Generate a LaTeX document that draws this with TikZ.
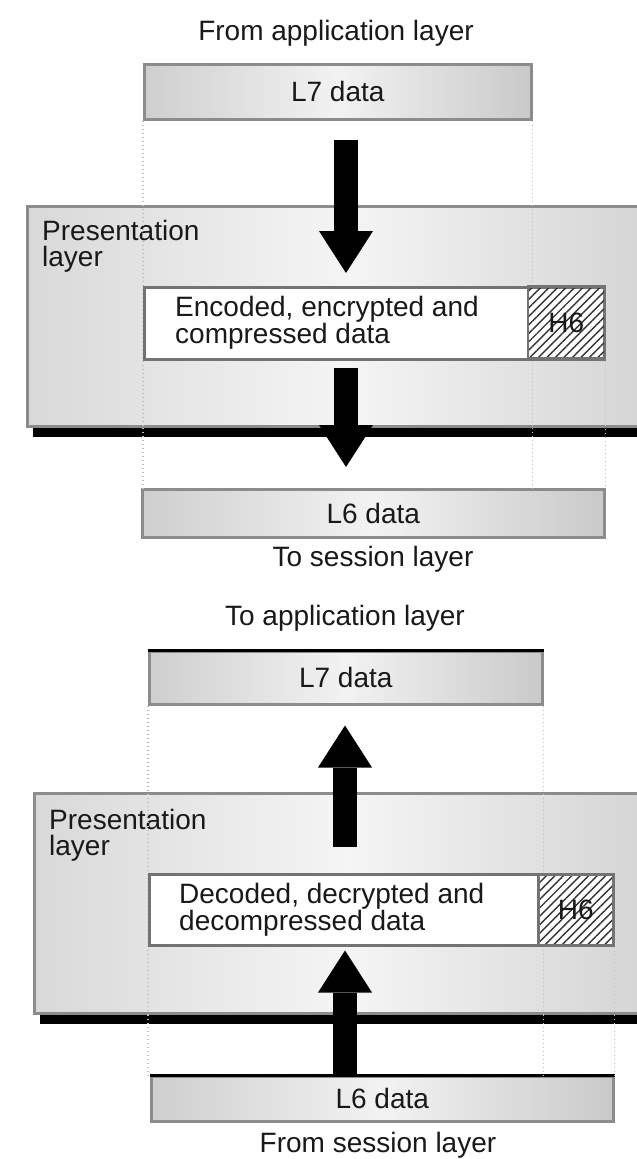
\documentclass[tikz,border=0pt]{standalone}
\usepackage{fontspec}
\setmainfont{Liberation Sans}
\usetikzlibrary{arrows.meta,calc,patterns.meta,shadows}
\begin{document}
\begin{tikzpicture}[x=1pt,y=-1pt,
  lbl/.style={font=\fontsize{28}{27}\selectfont, text=black!90, inner sep=0pt},
  databox/.style={lbl, draw=gray!90, line width=2.5pt, left color=gray!38, right color=gray!42, middle color=gray!10, anchor=north west},
  layerbox/.style={draw=gray!90, line width=2.5pt, left color=gray!30, right color=gray!35, middle color=gray!8, anchor=north west,
    drop shadow={shadow xshift=6pt, shadow yshift=-11pt, fill=black, opacity=1}},
  payload/.style={draw=gray!90!black, line width=2.5pt, fill=white, anchor=north west},
  hdr/.style={lbl, draw=gray!90!black, line width=2.5pt, pattern={Lines[angle=45,distance=6pt,line width=1.4pt]}, pattern color=black!80, anchor=north east},
  guide/.style={draw=gray!50, line width=1.5pt, dash pattern=on 1.5pt off 2.5pt},
  flow/.style={line width=24pt, -{Triangle[width=54pt,length=42pt,line width=0pt]}},
]
\useasboundingbox (0,0) rectangle (637,1159);
\clip (0,0) rectangle (637,1159);
\fill[white] (0,0) rectangle (637,1159);

% ---------- sending side: application -> presentation -> session ----------
\node[lbl] (fromapp) at (336,33) {From application layer};
\node[databox, minimum width=387pt, minimum height=55pt] (l7a) at (143,63) {L7 data};
\node[layerbox, minimum width=640pt, minimum height=220pt] (presA) at (26,205) {};
\node[lbl, align=left, anchor=north west, font=\fontsize{28}{26}\selectfont] (presAt) at (42,220) {Presentation\\layer};
\draw[guide] (l7a.south west) -- (l7a.south west |- presA.south);
\draw[guide] (l7a.south east) -- (l7a.south east |- presA.south);
\node[payload, minimum width=460pt, minimum height=72pt] (encA) at (143,286) {};
\node[lbl, align=left, anchor=west] (encAt) at ($(encA.west)+(32,0)$) {Encoded, encrypted and\\compressed data};
\node[hdr, minimum width=77pt, minimum height=72pt] (h6a) at (encA.north east) {H6};
\node[databox, minimum width=462pt, minimum height=48pt] (l6a) at (141,488) {L6 data};
\node[lbl] (tosess) at (373,559) {To session layer};
\draw[guide] (presA.south -| l7a.south west) -- (l7a.south west |- l6a.north);
\draw[guide] (presA.south -| l7a.south east) -- (l7a.south east |- l6a.north);
\draw[guide] (encA.south east) -- (l6a.north east);

\coordinate (ax) at (346,0);
\draw[flow] ($(l7a.south -| ax)+(0,19)$) -- ($(encA.north -| ax)+(0,-13)$);
\draw[flow] ($(encA.south -| ax)+(0,7)$) -- ($(l6a.north -| ax)+(0,-21)$);

% ---------- receiving side: session -> presentation -> application ----------
\node[lbl] (toapp) at (345,618) {To application layer};
\node[databox, minimum width=393pt, minimum height=53pt] (l7b) at (148,650) {L7 data};
\draw[line width=3pt] (l7b.north west) -- (l7b.north east);
\node[layerbox, minimum width=630pt, minimum height=220pt] (presB) at (33,792) {};
\node[lbl, align=left, anchor=north west, font=\fontsize{28}{26}\selectfont] (presBt) at (49,809) {Presentation\\layer};
\draw[guide] (l7b.south west) -- (l7b.south west |- presB.south);
\draw[guide] (l7b.south east) -- (l7b.south east |- presB.south);
\node[payload, minimum width=464pt, minimum height=71pt] (decB) at (148,873) {};
\node[lbl, align=left, anchor=west] (decBt) at ($(decB.west)+(31,0)$) {Decoded, decrypted and\\decompressed data};
\node[hdr, minimum width=75pt, minimum height=71pt] (h6b) at (decB.north east) {H6};
\node[databox, minimum width=462pt, minimum height=45pt] (l6b) at (150,1075) {L6 data};
\draw[line width=3pt] (l6b.north west) -- (l6b.north east);
\node[lbl] (fromsess) at (378,1145) {From session layer};
\draw[guide] (presB.south -| l7b.south west) -- (l7b.south west |- l6b.north);
\draw[guide] (presB.south -| l7b.south east) -- (l7b.south east |- l6b.north);
\draw[guide] (decB.south east) -- (l6b.north east);

\coordinate (bx) at (345,0);
\draw[flow] ($(decB.north -| bx)+(0,-26)$) -- ($(l7b.south -| bx)+(0,20)$);
\draw[flow] (l6b.north -| bx) -- ($(decB.south -| bx)+(0,4)$);
\end{tikzpicture}
\end{document}
